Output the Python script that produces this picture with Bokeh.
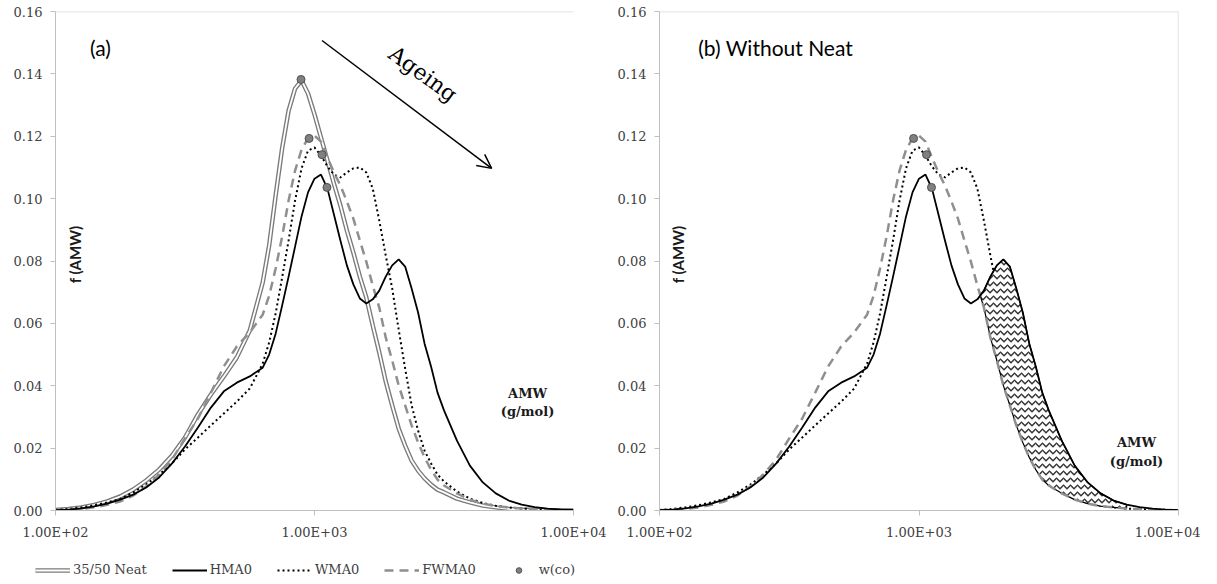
import math
from bokeh.plotting import figure
from bokeh.layouts import row, column
from bokeh.models import (Legend, LegendItem, Label, Arrow, OpenHead, Span,
                          FixedTicker, NumeralTickFormatter)
from bokeh.embed import file_html
from bokeh.resources import INLINE

# ---------------- data ----------------
log_amw = [2.00, 2.05, 2.10, 2.15, 2.20, 2.25, 2.30, 2.35, 2.40, 2.45, 2.50, 2.55, 2.60,
           2.65, 2.70, 2.75, 2.80, 2.825, 2.85, 2.875, 2.90, 2.925, 2.95, 2.975, 3.00,
           3.025, 3.05, 3.075, 3.10, 3.125, 3.15, 3.175, 3.20, 3.225, 3.25, 3.275, 3.30,
           3.325, 3.35, 3.375, 3.40, 3.425, 3.45, 3.475, 3.50, 3.55, 3.60, 3.65, 3.70,
           3.75, 3.80, 3.85, 3.90, 3.95, 4.00]
amw = [10 ** v for v in log_amw]

neat = [0.0002, 0.0005, 0.0010, 0.0018, 0.0029, 0.0045, 0.0067, 0.0096, 0.0131, 0.0176,
        0.0234, 0.0308, 0.0372, 0.0430, 0.0491, 0.0577, 0.0731, 0.0850, 0.1010, 0.1161,
        0.1282, 0.1353, 0.1379, 0.1337, 0.1270, 0.1196, 0.1122, 0.1048, 0.0978, 0.0898,
        0.0827, 0.0750, 0.0683, 0.0593, 0.0507, 0.0414, 0.0337, 0.0263, 0.0208, 0.0160,
        0.0128, 0.0103, 0.0083, 0.0067, 0.0058, 0.0038, 0.0026, 0.0016, 0.0010, 0.0005,
        0.0003, 0.0002, 0.0001, 0.0001, 0.0000]

hma0 = [0.0001, 0.0003, 0.0007, 0.0013, 0.0022, 0.0035, 0.0051, 0.0074, 0.0106, 0.0151,
        0.0205, 0.0266, 0.0330, 0.0382, 0.0410, 0.0430, 0.0458, 0.0500, 0.0567, 0.0657,
        0.0750, 0.0846, 0.0943, 0.1020, 0.1064, 0.1077, 0.1032, 0.0949, 0.0866, 0.0786,
        0.0725, 0.0680, 0.0664, 0.0677, 0.0705, 0.0750, 0.0786, 0.0805, 0.0782, 0.0712,
        0.0635, 0.0535, 0.0462, 0.0378, 0.0321, 0.0224, 0.0144, 0.0090, 0.0055, 0.0032,
        0.0019, 0.0011, 0.0006, 0.0003, 0.0002]

wma0 = [0.0002, 0.0005, 0.0010, 0.0017, 0.0026, 0.0037, 0.0058, 0.0083, 0.0115, 0.0151,
        0.0196, 0.0234, 0.0273, 0.0311, 0.0349, 0.0391, 0.0471, 0.0539, 0.0632, 0.0747,
        0.0866, 0.0994, 0.1097, 0.1154, 0.1164, 0.1138, 0.1103, 0.1077, 0.1068, 0.1084,
        0.1097, 0.1100, 0.1084, 0.1032, 0.0930, 0.0818, 0.0712, 0.0580, 0.0455, 0.0337,
        0.0256, 0.0192, 0.0151, 0.0115, 0.0093, 0.0061, 0.0038, 0.0024, 0.0015, 0.0010,
        0.0006, 0.0004, 0.0003, 0.0002, 0.0001]

fwma0 = [0.0001, 0.0003, 0.0005, 0.0010, 0.0018, 0.0029, 0.0048, 0.0077, 0.0115, 0.0164,
         0.0231, 0.0295, 0.0378, 0.0462, 0.0526, 0.0571, 0.0628, 0.0689, 0.0776, 0.0878,
         0.0994, 0.1090, 0.1157, 0.1193, 0.1202, 0.1183, 0.1132, 0.1084, 0.1042, 0.0991,
         0.0936, 0.0866, 0.0798, 0.0721, 0.0651, 0.0555, 0.0481, 0.0401, 0.0337, 0.0273,
         0.0218, 0.0170, 0.0131, 0.0099, 0.0080, 0.0055, 0.0035, 0.0022, 0.0014, 0.0010,
         0.0006, 0.0004, 0.0003, 0.0002, 0.0001]

# w(co) points: 35/50 Neat, FWMA0, WMA0, HMA0
wco_amw = [887, 953, 1069, 1117]
wco_f = [0.1382, 0.1193, 0.1141, 0.1036]

# shaded zone (HMA0 above FWMA0) in panel (b)
hatch_start_amw = 1720
hatch_start_f = 0.0690
hatch_end_log = 3.80

x_ticks = [100, 1000, 10000]
x_tick_labels = ["1.00E+02", "1.00E+03", "1.00E+04"]
y_ticks = [0.00, 0.02, 0.04, 0.06, 0.08, 0.10, 0.12, 0.14, 0.16]

SERIF = "DejaVu Serif"
SANS = "Lato"
AXIS_GREY = "#bfbfbf"
TICK_TEXT = "#404040"

NEAT_O = dict(line_color="#7a7a7a", line_width=4.5)
NEAT_I = dict(line_color="white", line_width=1.8)
HMA_S = dict(line_color="black", line_width=1.8)
WMA_S = dict(line_color="black", line_width=2, line_dash="2 3")
FW_S = dict(line_color="#8f8f8f", line_width=2.5, line_dash="9 6")
WCO_S = dict(size=8, fill_color="#808080", line_color="#505050", line_width=1)


def make_fig(frame_w, mb_left, mb_right):
    p = figure(x_axis_type="log", x_range=(100, 10000), y_range=(0, 0.16),
               frame_width=frame_w, frame_height=499,
               min_border_left=mb_left, min_border_right=mb_right,
               min_border_top=11, min_border_bottom=37,
               output_backend="svg", toolbar_location=None,
               background_fill_color="white", border_fill_color="white")
    p.outline_line_color = None
    p.xgrid.visible = False
    p.ygrid.visible = False
    for ax in (p.xaxis[0], p.yaxis[0]):
        ax.axis_line_color = AXIS_GREY
        ax.major_tick_line_color = AXIS_GREY
        ax.major_tick_out = 5
        ax.major_tick_in = 0
        ax.minor_tick_line_color = None
        ax.major_label_text_font = SERIF
        ax.major_label_text_font_size = "13px"
        ax.major_label_text_color = TICK_TEXT
    p.xaxis.ticker = FixedTicker(ticks=x_ticks, minor_ticks=[])
    p.xaxis.major_label_overrides = dict(zip(x_ticks, x_tick_labels))
    p.xaxis.major_label_standoff = 9
    p.yaxis.ticker = FixedTicker(ticks=y_ticks, minor_ticks=[])
    p.yaxis.formatter = NumeralTickFormatter(format="0.00")
    p.yaxis.major_label_standoff = 8
    p.add_layout(Span(location=0.16, dimension="width", line_color="#d9d9d9", line_width=1.5))
    return p


def add_axis_texts(p, fx, fy, ax_x, ax_y1, ax_y2):
    p.add_layout(Label(x=fx, y=fy, text="f (AMW)", angle=math.pi / 2,
                       text_font=SANS, text_font_style="bold", text_font_size="15px",
                       text_align="center", text_baseline="middle", text_color="#1a1a1a"))
    p.add_layout(Label(x=ax_x, y=ax_y1, text="AMW", text_font=SERIF, text_font_style="bold",
                       text_font_size="13px", text_align="center", text_baseline="middle",
                       text_color="#1a1a1a"))
    p.add_layout(Label(x=ax_x, y=ax_y2, text="(g/mol)", text_font=SERIF, text_font_style="bold",
                       text_font_size="13px", text_align="center", text_baseline="middle",
                       text_color="#1a1a1a"))


# ---------------- panel (a) ----------------
p1 = make_fig(518, 55, 35)
p1.line(amw, neat, **NEAT_O)
p1.line(amw, neat, **NEAT_I)
p1.line(amw, wma0, **WMA_S)
p1.line(amw, fwma0, **FW_S)
p1.line(amw, hma0, **HMA_S)
p1.scatter(wco_amw, wco_f, **WCO_S)

p1.add_layout(Label(x=136, y=0.1484, text="(a)", text_font=SANS, text_font_size="21px",
                    text_align="left", text_baseline="middle", text_color="black"))
p1.add_layout(Arrow(end=OpenHead(size=14, line_width=1.5, line_color="black"),
                    x_start=1069, y_start=0.1507, x_end=4830, y_end=0.1097,
                    line_width=1.5, line_color="black"))
p1.add_layout(Label(x=2624, y=0.1400, text="Ageing", angle=-0.63, text_font=SERIF,
                    text_font_size="22px", text_align="center", text_baseline="middle",
                    text_color="black"))
add_axis_texts(p1, 119, 0.0821, 6650, 0.0375, 0.0317)

# ---------------- panel (b) ----------------
p2 = make_fig(519, 51, 22)
p2.add_layout(Span(location=10000, dimension="height", line_color="#d9d9d9", line_width=1.5))

p2.line(amw, wma0, **WMA_S)

hx = [hatch_start_amw]
hy = [hatch_start_f]
sel = [i for i, l in enumerate(log_amw) if math.log10(hatch_start_amw) < l <= hatch_end_log]
hx += [amw[i] for i in sel] + [amw[i] for i in reversed(sel)]
hy += [hma0[i] for i in sel] + [fwma0[i] for i in reversed(sel)]
p2.patch(hx, hy, fill_color="white", hatch_pattern="horizontal_wave", hatch_color="#333333",
         hatch_scale=7, hatch_weight=1.5, line_color="black", line_width=1.2)

p2.line(amw, fwma0, **FW_S)
p2.line(amw, hma0, **HMA_S)
p2.scatter(wco_amw[1:], wco_f[1:], **WCO_S)

p2.add_layout(Label(x=141, y=0.1484, text="(b) Without Neat", text_font=SANS,
                    text_font_size="21px", text_align="left", text_baseline="middle",
                    text_color="black"))
add_axis_texts(p2, 118, 0.0821, 6890, 0.0218, 0.0157)

# ---------------- shared legend strip (series drawn off-range, legend only) ----------------
pl = figure(width=1200, height=37, x_range=(0, 1), y_range=(0, 1),
            min_border=0, x_axis_location=None, y_axis_location=None,
            output_backend="svg", toolbar_location=None)
pl.outline_line_color = None
pl.xgrid.visible = False
pl.ygrid.visible = False
l_neat_o = pl.line(amw, neat, **NEAT_O)
l_neat_i = pl.line(amw, neat, **NEAT_I)
l_hma = pl.line(amw, hma0, **HMA_S)
l_wma = pl.line(amw, wma0, **WMA_S)
l_fw = pl.line(amw, fwma0, **FW_S)
l_wco = pl.scatter(wco_amw, wco_f, **WCO_S)
legend = Legend(items=[
    LegendItem(label="35/50 Neat", renderers=[l_neat_o, l_neat_i]),
    LegendItem(label="HMA0", renderers=[l_hma]),
    LegendItem(label="WMA0", renderers=[l_wma]),
    LegendItem(label="FWMA0", renderers=[l_fw]),
    LegendItem(label="w(co)", renderers=[l_wco]),
], orientation="horizontal", location=(35, 7), glyph_width=35, glyph_height=14,
    label_standoff=3, spacing=25, padding=0, margin=0, border_line_color=None,
    background_fill_alpha=0, label_text_font=SERIF, label_text_font_size="13px",
    label_text_color=TICK_TEXT, label_height=14)
pl.add_layout(legend)

layout = column(row(p1, p2), pl)
open("out.html", "w").write(file_html(layout, INLINE))
